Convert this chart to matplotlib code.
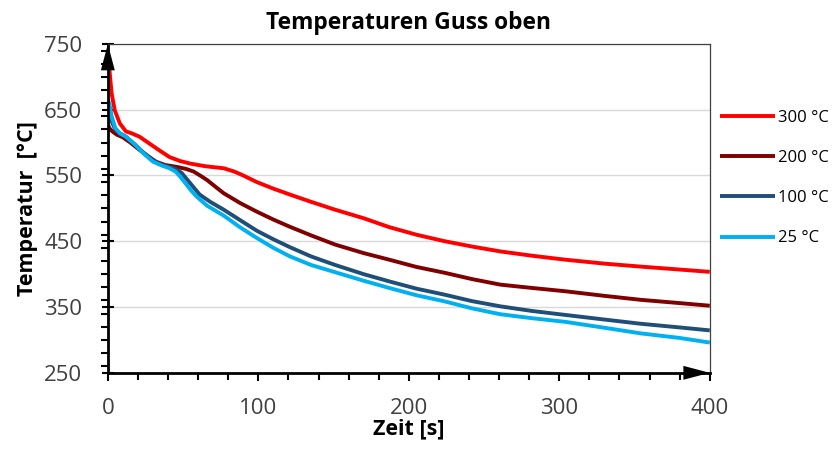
import numpy as np
import matplotlib
matplotlib.use("Agg")
import matplotlib.pyplot as plt
from matplotlib.ticker import MultipleLocator

plt.rcParams['font.family'] = ['Open Sans', 'DejaVu Sans']

# Temperaturen Guss oben - Zeit [s] vs Temperatur [°C]
labels = ["300 °C", "200 °C", "100 °C", "25 °C"]
colors = ["#FF0000", "#800000", "#1F4E79", "#00B0F0"]

x_300 = [0, 1, 2.5, 4.6, 8, 12, 16, 21, 28, 35, 41, 48, 55, 65, 77, 84, 90, 99, 110, 121,
         135, 151, 170, 187, 205, 224, 242, 261, 282, 304, 330, 354, 380, 400]
y_300 = [720, 712, 675, 649, 629, 617, 614, 609, 598, 587, 578, 572, 568, 564, 561, 556, 550, 540, 530, 521,
         510, 498, 485, 471.5, 460, 450, 442, 434.5, 428, 422, 416, 411.5, 407, 403.5]

x_200 = [0, 1, 3, 6, 10, 15, 21, 27, 32, 38, 46, 52, 57, 62, 66, 72, 77, 88, 99, 110, 121,
         135, 151, 170, 187, 205, 224, 242, 261, 282, 304, 330, 354, 380, 400]
y_200 = [628, 622, 617, 612, 608, 600, 589, 579, 571, 566, 563, 560, 556, 549, 543, 532, 523, 508, 495, 483, 472,
         459, 445, 432, 422, 411, 402, 392.5, 384, 379, 374, 367, 361, 356, 352]

x_100 = [0, 1, 2.5, 5, 8, 12, 18, 24, 30, 36, 41, 45, 49, 53, 57, 61, 68, 77, 88, 99, 110, 121,
         135, 151, 170, 187, 205, 224, 242, 261, 282, 304, 330, 354, 380, 400]
y_100 = [655, 648, 632, 620, 614, 609, 597, 584, 573, 566, 563, 560, 554, 543, 532, 521, 510, 498, 482, 466, 453, 441,
         427, 414, 400, 389, 378, 368.7, 359, 351, 344, 338, 331, 324.6, 319, 314.5]

x_25 = [0, 1, 2.5, 5, 8, 12, 18, 24, 30, 36, 41, 45, 48, 52, 55, 59, 66, 77, 88, 99, 110, 121,
        135, 151, 170, 187, 205, 224, 242, 261, 282, 304, 330, 354, 380, 400]
y_25 = [665, 660, 640, 622, 614, 609, 597, 583, 571, 565, 561, 556, 548.5, 537, 528, 518, 504, 489, 471, 455, 440, 427,
        414, 403, 390, 379, 368, 358.5, 348, 339, 333, 327.5, 318.5, 310, 303, 296]

series = [(x_300, y_300), (x_200, y_200), (x_100, y_100), (x_25, y_25)]

fig = plt.figure(figsize=(8.36, 4.53), dpi=100)
ax = fig.add_axes([0.129, 0.177, 0.72, 0.726])

for (xs, ys), lab, c in zip(series, labels, colors):
    ax.plot(xs, ys, color=c, lw=2.8, label=lab, solid_capstyle='butt', solid_joinstyle='round')

ax.set_xlim(0, 400)
ax.set_ylim(250, 750)
ax.xaxis.set_major_locator(MultipleLocator(100))
ax.xaxis.set_minor_locator(MultipleLocator(20))
ax.yaxis.set_major_locator(MultipleLocator(100))
ax.yaxis.set_minor_locator(MultipleLocator(20))
ax.set_yticks([250, 350, 450, 550, 650, 750])

ax.grid(axis='y', which='major', color='#D9D9D9', lw=1)
ax.set_axisbelow(True)

for s in ['left', 'bottom']:
    ax.spines[s].set_linewidth(2)
    ax.spines[s].set_color('black')
for s in ['top', 'right']:
    ax.spines[s].set_linewidth(0.9)
    ax.spines[s].set_color('#404040')

ax.tick_params(axis='both', which='major', labelsize=16, colors='black', labelcolor='#404040',
               width=1.5, length=6, direction='out')
ax.tick_params(axis='y', which='major', direction='inout', length=9, pad=14)
ax.tick_params(axis='x', which='major', pad=12)
ax.tick_params(axis='both', which='minor', width=1.5, length=5, direction='out')

# arrow heads on the axes
arrow = dict(arrowstyle='-|>,head_length=1.9,head_width=0.5', color='black',
             mutation_scale=10, shrinkA=0, shrinkB=0, lw=0)
ax.annotate('', xy=(0, 750), xytext=(0, 700), arrowprops=arrow, annotation_clip=False)
ax.annotate('', xy=(400, 250), xytext=(350, 250), arrowprops=arrow, annotation_clip=False)

ax.set_title("Temperaturen Guss oben", fontsize=16.4, fontweight='bold', pad=11)
ax.set_xlabel("Zeit [s]", fontsize=15.5, fontweight='bold', labelpad=0)
ax.set_ylabel("Temperatur  [°C]", fontsize=15.5, fontweight='bold', labelpad=4)

ax.legend(loc='upper left', bbox_to_anchor=(0.995, 0.84), frameon=False, fontsize=12,
          handlelength=3.3, handletextpad=0.2, labelspacing=1.45, borderaxespad=0.4)

fig.savefig("out.png", dpi=100)
